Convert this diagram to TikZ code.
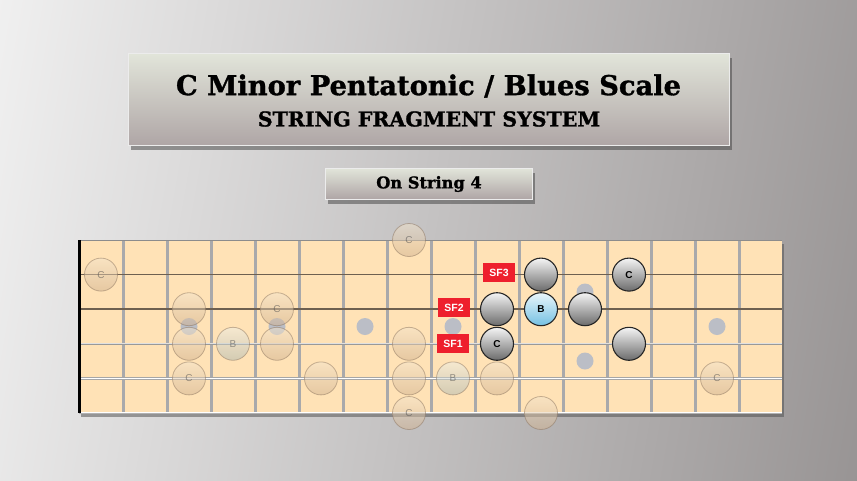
\documentclass[tikz,border=0pt]{standalone}
\usepackage{fontspec}
\setmainfont{DejaVu Serif}[BoldFeatures={FakeBold=1.2}]
\newfontfamily\labfont{Liberation Sans}
\usetikzlibrary{shadows}
\definecolor{bgL}{HTML}{F3F3F3}
\definecolor{bgM}{HTML}{D3D1D1}
\definecolor{bgR}{HTML}{959191}
\definecolor{boxT}{HTML}{E2E5DA}
\definecolor{boxB}{HTML}{AFA6A6}
\definecolor{board}{HTML}{FFE2B6}
\definecolor{fretc}{HTML}{A9A9AB}
\definecolor{strc}{HTML}{6E6050}
\definecolor{dotc}{HTML}{BBBEC6}
\definecolor{sfred}{HTML}{EE1F2D}
\definecolor{fadeT}{HTML}{F3E4CC}
\definecolor{fadeB}{HTML}{CFB08E}
\definecolor{fadeE}{HTML}{8C7560}
\definecolor{blueT}{HTML}{EAF6FB}
\definecolor{blueB}{HTML}{74C0E2}
\begin{document}
\begin{tikzpicture}[x=1pt,y=-1pt,
  titlebox/.style={rectangle, draw=white!85!gray, line width=0.6pt, top color=boxT, bottom color=boxB,
    drop shadow={shadow xshift=3pt, shadow yshift=-5pt, opacity=0.5, fill=black!75}},
  fret/.style={fretc, line width=3pt},
  fnote/.style={circle, minimum size=33pt, inner sep=0pt, draw=fadeE, line width=0.8pt,
    top color=fadeT, bottom color=fadeB, fill opacity=0.5, draw opacity=0.5, text opacity=0.55,
    font=\labfont\fontsize{10}{10}\selectfont, text=black!70},
  fblue/.style={fnote, top color=blueT!60!fadeT, bottom color=blueB!40!fadeB},
  bnote/.style={circle, minimum size=33pt, inner sep=0pt, draw=black!85, line width=1.1pt,
    top color=white!92!gray, bottom color=black!58,
    font=\labfont\bfseries\fontsize{10}{10}\selectfont},
  bblue/.style={bnote, top color=blueT, bottom color=blueB},
  sflabel/.style={rectangle, fill=sfred, minimum width=32pt, minimum height=19pt, inner sep=0pt,
    text=white, font=\labfont\bfseries\fontsize{10.5}{10.5}\selectfont},
  inlay/.style={dotc}
]
\useasboundingbox (0,0) rectangle (857,480);
\shade[left color=bgL, middle color=bgM, right color=bgR, shading angle=80] (-100,-100) rectangle (957,580);

% title
\node[titlebox, minimum width=601pt, minimum height=92pt] (title) at (428.5,99) {};
\node (t1) at (428.5,86) {\fontsize{27.3}{30}\selectfont\bfseries C Minor Pentatonic / Blues Scale};
\node (t2) at (429,119) {\fontsize{20.5}{22}\selectfont\bfseries STRING FRAGMENT SYSTEM};
\node[titlebox, minimum width=207pt, minimum height=31pt] (sub) at (428.5,183.5) {};
\node (t3) at (429,184) {\fontsize{16.2}{18}\selectfont\bfseries On String 4};

% fretboard
\fill[board, drop shadow={shadow xshift=2pt, shadow yshift=-4pt, opacity=0.5, fill=black!70}] (79,240) rectangle (782,413);
\foreach \k in {1,...,15} \draw[fret] ({79+44*\k},240) -- ({79+44*\k},413);
\foreach \p in {(189,326.5),(277,326.5),(365,326.5),(453,326.5),(585,292),(585,361),(717,326.5)}
  \fill[inlay] \p circle (8.5);
% strings
\draw[black!45, line width=1.4pt] (79,240.5) -- (782,240.5);
\draw[strc, line width=1.6pt] (79,274.6) -- (782,274.6);
\draw[strc, line width=1.6pt] (79,309.2) -- (782,309.2);
\draw[black!40, line width=2.6pt] (79,343.8) -- (782,343.8);
\draw[black!12, line width=1pt] (79,343.8) -- (782,343.8);
\draw[black!35, line width=3pt] (79,378.4) -- (782,378.4);
\draw[white, line width=1.3pt] (79,378.4) -- (782,378.4);
\draw[black!30, line width=2pt] (79,412.5) -- (782,412.5);
\draw[white, line width=0.8pt] (79,412.5) -- (782,412.5);
\draw[black, line width=3.5pt] (79.5,240) -- (79.5,413);

% faded notes
\node[fnote] (fa) at (101,274.6) {C};
\node[fnote] (fb) at (189,309.2) {};
\node[fnote] (fc) at (189,343.8) {};
\node[fnote] (fd) at (189,378.4) {C};
\node[fblue] (fe) at (233,343.8) {B};
\node[fnote] (ff) at (277,309.2) {C};
\node[fnote] (fg) at (277,343.8) {};
\node[fnote] (fh) at (321,378.4) {};
\node[fnote] (fi) at (409,240) {C};
\node[fnote] (fj) at (409,343.8) {};
\node[fnote] (fk) at (409,378.4) {};
\node[fnote] (fl) at (409,413) {C};
\node[fblue] (fm) at (453,378.4) {B};
\node[fnote] (fn) at (497,378.4) {};
\node[fnote] (fo) at (541,413) {};
\node[fnote] (fp) at (717,378.4) {C};

% bold notes
\node[bnote] (na) at (541,274.6) {};
\node[bnote] (nb) at (497,309.2) {};
\node[bblue] (nc) at (541,309.2) {B};
\node[bnote] (nd) at (497,343.8) {C};
\node[bnote] (ne) at (585,309.2) {};
\node[bnote] (nf) at (629,274.6) {C};
\node[bnote] (ng) at (629,343.8) {};

% string fragment labels
\node[sflabel] (sf3) at (499,272.5) {SF3};
\node[sflabel] (sf2) at (454,307.5) {SF2};
\node[sflabel] (sf1) at (453,343.5) {SF1};
\end{tikzpicture}
\end{document}
